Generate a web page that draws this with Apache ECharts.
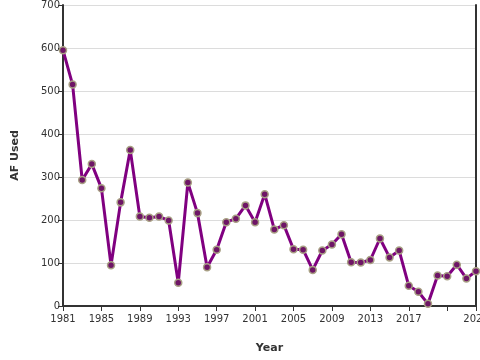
<!DOCTYPE html>
<html>
<head>
<meta charset="utf-8">
<script src="https://cdn.jsdelivr.net/npm/echarts@6/dist/echarts.min.js"></script>
<style>
  html, body { margin: 0; padding: 0; background: #fff; }
  #chart { width: 480px; height: 360px; }
</style>
</head>
<body>
<div id="chart"></div>
<script>
// AF used per year
const years = [
  1981, 1982, 1983, 1984, 1985, 1986, 1987, 1988, 1989, 1990, 1991,
  1992, 1993, 1994, 1995, 1996, 1997, 1998, 1999, 2000, 2001, 2002,
  2003, 2004, 2005, 2006, 2007, 2008, 2009, 2010, 2011, 2012, 2013,
  2014, 2015, 2016, 2017, 2018, 2019, 2020, 2021, 2022, 2023, 2024,
];
const afUsed = [
  595, 515, 293, 330, 274, 95, 241, 363, 208, 205, 208,
  199, 54, 287, 216, 90, 131, 195, 203, 234, 195, 260,
  178, 188, 132, 131, 84, 129, 143, 167, 102, 101, 107,
  157, 113, 129, 47, 33, 5, 71, 69, 96, 64, 81,
];

const points = years.map((y, i) => [y, afUsed[i]]);

const chart = echarts.init(document.getElementById("chart"), null, { renderer: "canvas" });

const axisColor = "#333";
const font = "DejaVu Sans";

const option = {
  animation: false,
  textStyle: { fontFamily: font },
  grid: { left: 63, right: 4, top: 5, bottom: 54, containLabel: false, outerBoundsMode: "none" },
  xAxis: {
    type: "value",
    min: 1981,
    max: 2024,
    interval: 4,
    name: "Year",
    nameLocation: "middle",
    nameGap: 37,
    nameTextStyle: { fontFamily: font, fontWeight: "bold", fontSize: 11, color: axisColor },
    axisLine: { lineStyle: { color: axisColor, width: 2 } },
    axisTick: { show: true, length: 5, lineStyle: { color: axisColor, width: 1 } },
    axisLabel: {
      fontFamily: font,
      fontSize: 10,
      color: axisColor,
      margin: 8,
      showMinLabel: true,
      showMaxLabel: true,
      formatter: (v) => (v === 2021 ? "" : String(v)),
    },
    splitLine: { show: false },
  },
  yAxis: [
    {
      type: "value",
      min: 0,
      max: 700,
      interval: 100,
      name: "AF Used",
      nameLocation: "middle",
      nameGap: 42,
      nameTextStyle: { fontFamily: font, fontWeight: "bold", fontSize: 11, color: axisColor },
      axisLine: { show: true, lineStyle: { color: axisColor, width: 2 } },
      axisTick: { show: true, length: 5, lineStyle: { color: axisColor, width: 1 } },
      axisLabel: { fontFamily: font, fontSize: 10, color: axisColor, margin: 3 },
      splitLine: { show: true, lineStyle: { color: "#dcdcdc", width: 1 } },
    },
    {
      type: "value",
      position: "right",
      min: 0,
      max: 700,
      axisLine: { show: true, lineStyle: { color: axisColor, width: 2 } },
      axisTick: { show: false },
      axisLabel: { show: false },
      splitLine: { show: false },
    },
  ],
  series: [
    {
      name: "AF Used",
      type: "line",
      data: points,
      symbol: "circle",
      symbolSize: 7,
      lineStyle: { color: "#800080", width: 3 },
      itemStyle: { color: "#6e1566", borderColor: "#a8a084", borderWidth: 1.5 },
    },
  ],
};

chart.setOption(option);
</script>
</body>
</html>
